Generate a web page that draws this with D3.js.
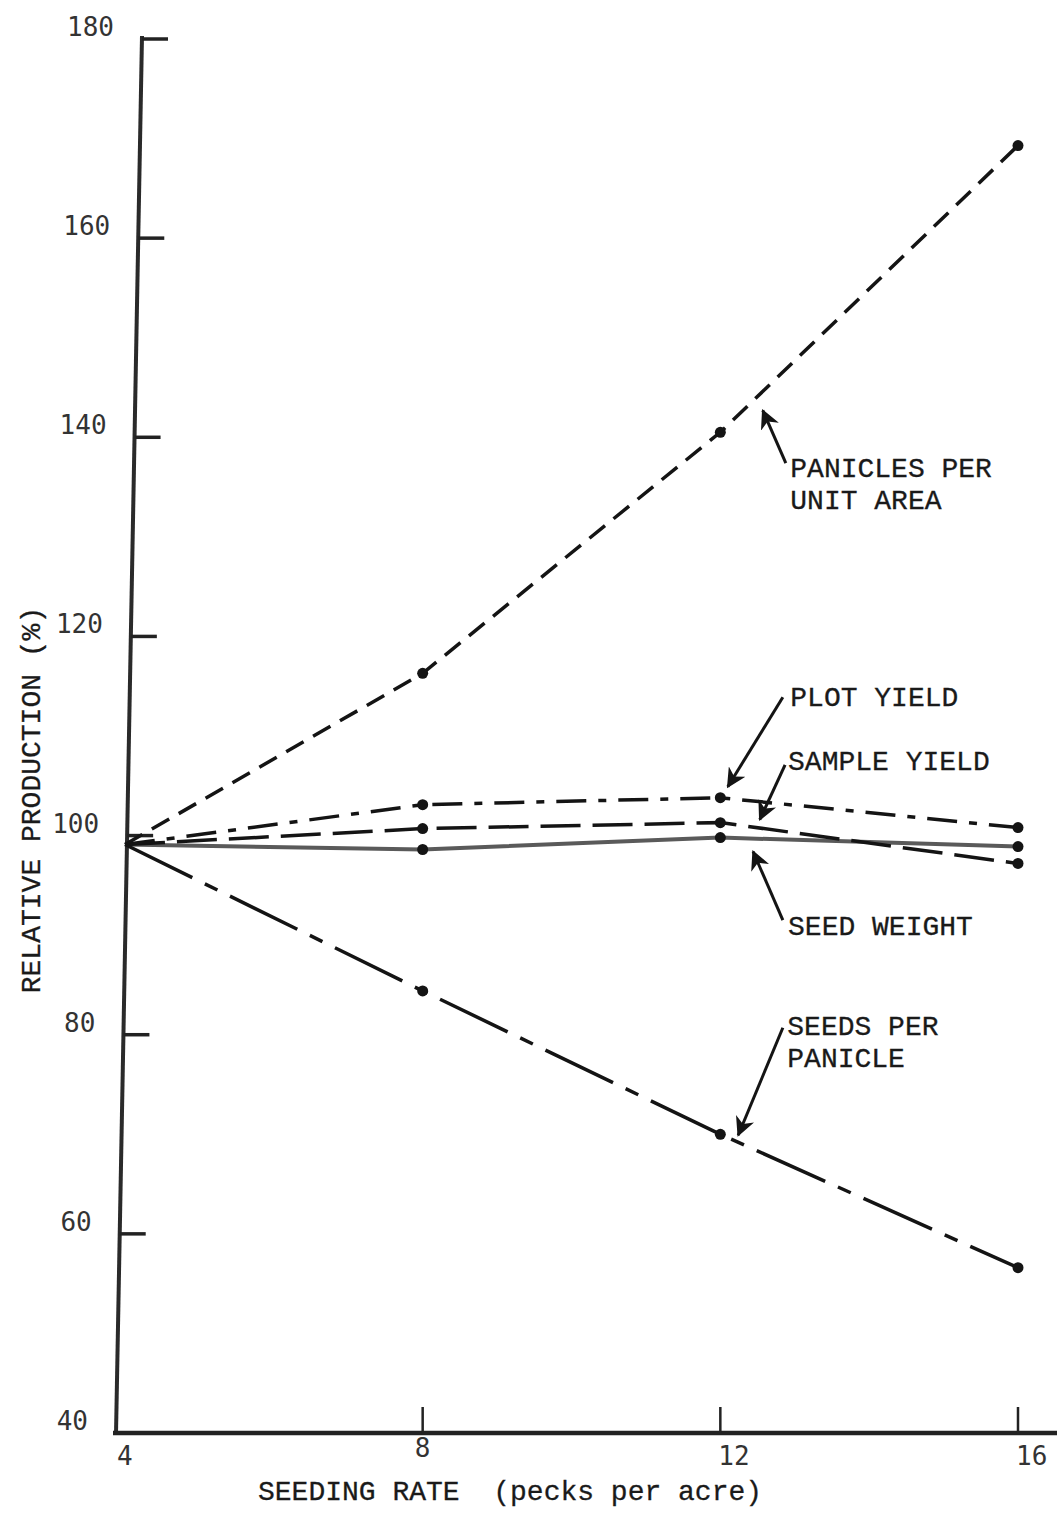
<!DOCTYPE html>
<html>
<head>
<meta charset="utf-8">
<script src="https://cdn.jsdelivr.net/npm/d3@7"></script>
<style>
  body { margin: 0; background: #fff; }
  svg { display: block; }
  .lbl { font-family: "Liberation Mono", "Courier New", monospace; font-size: 28px; fill: #1a1a1a; stroke: #1a1a1a; stroke-width: 0.3px; }
  .tick-lbl { font-family: "DejaVu Sans Mono", monospace; font-size: 26px; fill: #333; }
</style>
</head>
<body>
<svg id="chart"></svg>
<script>
// seeding rate (pecks per acre)
var rates = [4, 8, 12, 16];
// relative production (%)
var panicles        = [99.1, 116.3, 140.5, 169.3];
var plotYield       = [99.1, 103.1, 103.8, 100.8];
var sampleYield     = [99.1, 100.7, 101.3, 97.2];
var seedWeight      = [99.1, 98.6, 99.8, 98.9];
var seedsPerPanicle = [99.1, 84.4, 70.0, 56.6];
var yTicks = [180, 160, 140, 120, 100, 80, 60, 40];
var xTicks = [4, 8, 12, 16];

var W = 1057, H = 1514;
var svg = d3.select('#chart').attr('width', W).attr('height', H);

var x = d3.scaleLinear().domain([4, 16]).range([125, 1018]);
var y = d3.scaleLinear().domain([40, 180]).range([1433, 39]);

// the hand drawn y axis leans a bit to the right going up
function axisX(v) {
  var t = (y(40) - y(v)) / (y(40) - y(180));
  return x(4) - 9 + 26 * t;
}

var ink = '#141414';

// axes
svg.append('line')
  .attr('x1', axisX(40)).attr('y1', y(40) + 1)
  .attr('x2', axisX(180)).attr('y2', y(180) - 3)
  .attr('stroke', '#2a2a2a').attr('stroke-width', 4);

svg.append('line')
  .attr('x1', axisX(40) - 3).attr('y1', y(40))
  .attr('x2', W).attr('y2', y(40))
  .attr('stroke', '#222').attr('stroke-width', 4.5);

// y ticks + labels
yTicks.forEach(function(v) {
  if (v != 40) {
    svg.append('line')
      .attr('x1', axisX(v)).attr('y1', y(v))
      .attr('x2', axisX(v) + 26).attr('y2', y(v))
      .attr('stroke', '#222').attr('stroke-width', 3.5);
  }
  svg.append('text').attr('class', 'tick-lbl')
    .attr('x', axisX(v) - 28).attr('y', y(v) - 3)
    .attr('text-anchor', 'end')
    .text(v);
});

// x ticks + labels
xTicks.forEach(function(v) {
  if (v != 4) {
    svg.append('line')
      .attr('x1', x(v)).attr('y1', y(40))
      .attr('x2', x(v)).attr('y2', y(40) - 26)
      .attr('stroke', '#222').attr('stroke-width', 2.5);
  }
  svg.append('text').attr('class', 'tick-lbl')
    .attr('x', v == 4 ? x(v) - 8 : (v == 8 ? x(v) - 8 : x(v) - 2))
    .attr('y', y(40) + (v == 8 ? 24 : 32))
    .text(v);
});

// axis titles
svg.append('text').attr('class', 'lbl')
  .attr('x', 258).attr('y', 1500)
  .style('white-space', 'pre')
  .text('SEEDING RATE  (pecks per acre)');

svg.append('text').attr('class', 'lbl')
  .attr('transform', 'translate(40,800) rotate(-90)')
  .attr('text-anchor', 'middle')
  .text('RELATIVE PRODUCTION (%)');

// series
var series = [
  {name: 'seedWeight', vals: seedWeight, dash: null, color: '#5a5a5a', width: 4},
  {name: 'sampleYield', vals: sampleYield, dash: '40,12', color: ink, width: 3.5},
  {name: 'plotYield', vals: plotYield, dash: '30,12,8,12', color: ink, width: 3.5},
  {name: 'panicles', vals: panicles, dash: '20,11', color: ink, width: 3.5},
  {name: 'seedsPerPanicle', vals: seedsPerPanicle, dash: '75,14,14,14', color: ink, width: 3.5}
];

var line = d3.line()
  .x(function(d) { return x(d[0]); })
  .y(function(d) { return y(d[1]); });

series.forEach(function(s) {
  var pts = rates.map(function(r, i) { return [r, s.vals[i]]; });
  svg.append('path')
    .attr('d', line(pts))
    .attr('fill', 'none')
    .attr('stroke', s.color)
    .attr('stroke-width', s.width)
    .attr('stroke-dasharray', s.dash)
    .attr('stroke-linecap', 'butt');

  // dots (no dot at the common start point)
  svg.selectAll(null).data(pts.slice(1)).enter().append('circle')
    .attr('cx', function(d) { return x(d[0]); })
    .attr('cy', function(d) { return y(d[1]); })
    .attr('r', 5.5)
    .attr('fill', ink);
});

// annotations: text position and arrow (from -> tip), all in data units
var notes = [
  {lines: ['PANICLES PER', 'UNIT AREA'], tx: 12.94, ty: 136.0, from: [12.88, 137.4], tip: [12.57, 142.7]},
  {lines: ['PLOT YIELD'], tx: 12.94, ty: 113.0, from: [12.84, 113.9], tip: [12.10, 104.9]},
  {lines: ['SAMPLE YIELD'], tx: 12.91, ty: 106.6, from: [12.87, 107.1], tip: [12.53, 101.6]},
  {lines: ['SEED WEIGHT'], tx: 12.91, ty: 90.0, from: [12.84, 91.5], tip: [12.44, 98.4]},
  {lines: ['SEEDS PER', 'PANICLE'], tx: 12.90, ty: 80.0, from: [12.84, 80.7], tip: [12.24, 69.9]}
];

var defs = svg.append('defs');
defs.append('marker')
  .attr('id', 'head')
  .attr('viewBox', '0 0 12 12')
  .attr('refX', 11).attr('refY', 6)
  .attr('markerWidth', 6.5).attr('markerHeight', 6.5)
  .attr('markerUnits', 'strokeWidth')
  .attr('orient', 'auto')
  .append('path')
  .attr('d', 'M0,0 L12,6 L0,12 L3.5,6 Z')
  .attr('fill', ink);

notes.forEach(function(n) {
  var t = svg.append('text').attr('class', 'lbl')
    .attr('x', x(n.tx)).attr('y', y(n.ty));
  n.lines.forEach(function(l, i) {
    t.append('tspan').attr('x', x(n.tx)).attr('dy', i == 0 ? 0 : 32).text(l);
  });
  svg.append('line')
    .attr('x1', x(n.from[0])).attr('y1', y(n.from[1]))
    .attr('x2', x(n.tip[0])).attr('y2', y(n.tip[1]))
    .attr('stroke', ink).attr('stroke-width', 3)
    .attr('marker-end', 'url(#head)');
});
</script>
</body>
</html>
